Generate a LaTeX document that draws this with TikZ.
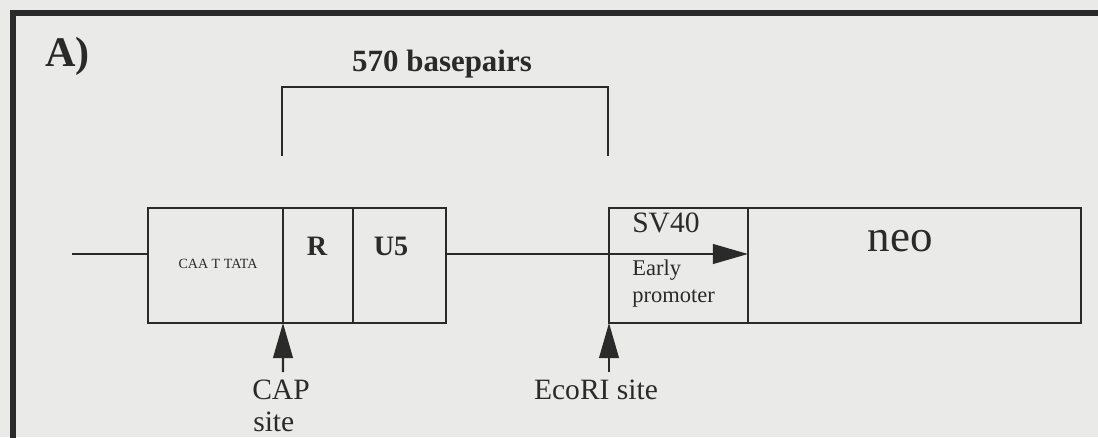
\documentclass[tikz,border=0pt]{standalone}
\usepackage{fontspec}
\setmainfont{Liberation Serif}
\usetikzlibrary{arrows.meta,positioning}
\definecolor{paper}{RGB}{234,234,232}
\definecolor{ink}{RGB}{42,42,42}
\newcommand{\px}{0.025cm}

\begin{document}
\begin{tikzpicture}[x=\px,y=-\px,>={Triangle[length=25pt,width=14pt]},
  seg/.style={draw=ink,line width=1.6pt,minimum height=115*\px,inner sep=0pt,outer sep=0pt,anchor=north west},
  wire/.style={draw=ink,line width=1.5pt},
  lbl/.style={text=ink,inner sep=0pt,anchor=base},
  fs/.style={font=\fontsize{#1}{#1}\selectfont}]
\clip (0,0) rectangle (1098,437);
\fill[paper] (0,0) rectangle (1098,437);
\draw[ink,line width=3.6pt] (13,460) -- (13,13) -- (1120,13);

% titles
\node[lbl,fs=30,anchor=base west] (tag) at (45,66) {\bfseries A)};
\node[lbl,fs=22] (bp) at (442,71) {\bfseries 570 basepairs};
\coordinate (bl) at (282,156);
\coordinate (br) at (608,156);
\draw[wire] (bl) -- ++(0,-69) -| (br);

% LTR and neo cassette
\node[seg,minimum width=135*\px] (caat) at (148,208) {};
\node[seg,minimum width=70*\px,right=0pt of caat] (r) {};
\node[seg,minimum width=93*\px,right=0pt of r] (u5) {};
\node[seg,minimum width=139*\px] (sv) at (609,208) {};
\node[seg,minimum width=333*\px,right=0pt of sv] (neo) {};

\node[lbl,fs=10] (caatlab) at (218,268) {CAA T TATA};
\node[lbl,fs=20] (rlab) at (317,255) {\bfseries R};
\node[lbl,fs=20] (u5lab) at (391,255) {\bfseries U5};
\node[lbl,fs=21,anchor=base west] (svlab) at (632,232) {SV40};
\node[lbl,fs=16,anchor=base west] (early) at (632,275) {Early};
\node[lbl,fs=16,anchor=base west] (prom) at (632,302) {promoter};
\node[lbl,fs=32] (neolab) at (900,251) {neo};

\coordinate (lstart) at (72,254);
\draw[wire] (lstart) -- (lstart -| caat.west);
\draw[wire,->] (u5.east |- lstart) -- (neo.west |- lstart);

% sites
\coordinate (captail) at (283,372);
\coordinate (ecotail) at (609,372);
\draw[wire,->] (captail) -- (r.south west);
\draw[wire,->] (ecotail) -- (sv.south west);
\node[lbl,fs=21,anchor=base west] (cap) at (252,399) {CAP};
\node[lbl,fs=21,anchor=base west] (capsite) at (253,431) {site};
\node[lbl,fs=21] (eco) at (596,399) {EcoRI site};
\end{tikzpicture}
\end{document}
